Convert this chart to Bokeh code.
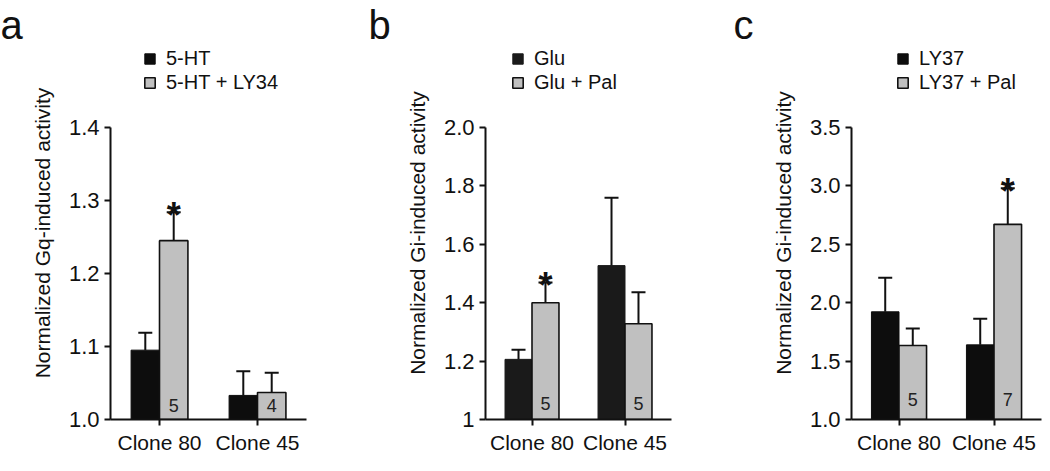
from bokeh.plotting import figure
from bokeh.models import (FactorRange, Range1d, FixedTicker, ColumnDataSource,
                          Legend, LegendItem, Whisker, TeeHead)
from bokeh.transform import dodge
from bokeh.layouts import row
from bokeh.embed import file_html
from bokeh.resources import INLINE
from bokeh.core.properties import value

FONT = "Liberation Sans"
TXT = "#111111"
GRAY = "#c0c0c0"

clones = ["Clone 80", "Clone 45"]
letters = ["a", "b", "c"]

# ---- panel a ----
a_series = ["5-HT", "5-HT + LY34"]
a_ctrl = [1.095, 1.033]
a_ctrl_err = [0.024, 0.033]
a_trt = [1.245, 1.037]
a_trt_err = [0.039, 0.027]
a_n = ["5", "4"]
a_star = ["*", ""]
a_ticks = [1.0, 1.1, 1.2, 1.3, 1.4]
a_tick_labels = ["1.0", "1.1", "1.2", "1.3", "1.4"]
a_ylabel = "Normalized Gq-induced activity"

# ---- panel b ----
b_series = ["Glu", "Glu + Pal"]
b_ctrl = [1.206, 1.527]
b_ctrl_err = [0.033, 0.232]
b_trt = [1.400, 1.328]
b_trt_err = [0.069, 0.108]
b_n = ["5", "5"]
b_star = ["*", ""]
b_ticks = [1.0, 1.2, 1.4, 1.6, 1.8, 2.0]
b_tick_labels = ["1", "1.2", "1.4", "1.6", "1.8", "2.0"]
b_ylabel = "Normalized Gi-induced activity"

# ---- panel c ----
c_series = ["LY37", "LY37 + Pal"]
c_ctrl = [1.922, 1.639]
c_ctrl_err = [0.292, 0.223]
c_trt = [1.633, 2.671]
c_trt_err = [0.147, 0.308]
c_n = ["5", "7"]
c_star = ["", "*"]
c_ticks = [1.0, 1.5, 2.0, 2.5, 3.0, 3.5]
c_tick_labels = ["1.0", "1.5", "2.0", "2.5", "3.0", "3.5"]
c_ylabel = "Normalized Gi-induced activity"

FH = 373             # frame height of each panel
AX = 292             # pixels spanned by the y axis (bottom tick to top tick)
BOT = 42
LEG_Y = 325
W = 0.29


def panel(letter, letter_x, series, ctrl, ctrl_err, trt, trt_err, n, star, ticks,
          tick_labels, ylabel, left, fw, right, legend_x, n_off, dark):
    t0, t1 = ticks[0], ticks[-1]
    y_end = t0 + (t1 - t0) * FH / AX
    p = figure(x_range=FactorRange(factors=clones, range_padding=0),
               y_range=Range1d(t0, y_end),
               frame_width=fw, frame_height=FH,
               min_border_left=left, min_border_right=right,
               min_border_top=0, min_border_bottom=BOT,
               output_backend="svg", toolbar_location=None)
    p.outline_line_color = None
    p.xgrid.visible = False
    p.ygrid.visible = False
    p.background_fill_color = None
    p.border_fill_color = None

    # panel letter as the plot title, shifted left over the axis area
    p.title.text = letter
    p.title.align = "left"
    p.title.offset = letter_x - left
    p.title.standoff = 0
    p.title.text_font = FONT
    p.title.text_font_size = "40px"
    p.title.text_font_style = "normal"
    p.title.text_color = TXT

    src = ColumnDataSource(dict(
        clone=clones,
        ctrl=ctrl, ctrl_top=[v + e for v, e in zip(ctrl, ctrl_err)],
        trt=trt, trt_top=[v + e for v, e in zip(trt, trt_err)],
        n=n, star=star))

    xl = dodge("clone", -W / 2, range=p.x_range)
    xr = dodge("clone", W / 2, range=p.x_range)

    for base, lo, hi in ((xl, "ctrl", "ctrl_top"), (xr, "trt", "trt_top")):
        p.add_layout(Whisker(source=src, base=base, lower=lo, upper=hi,
                             lower_head=None,
                             upper_head=TeeHead(size=14, line_width=2, line_color=TXT),
                             line_width=2, line_color=TXT, level="glyph"))

    r1 = p.vbar(x=xl, top="ctrl", bottom=t0, width=W, source=src,
                fill_color=dark, line_color=dark, line_width=1)
    r2 = p.vbar(x=xr, top="trt", bottom=t0, width=W, source=src,
                fill_color=GRAY, line_color=TXT, line_width=1.6)

    p.text(x=xr, y="trt_top", text="star", source=src, text_font=value(FONT),
           text_font_size="36px", text_font_style="bold", text_align="center",
           text_baseline="alphabetic", y_offset=3, text_color=TXT)
    p.text(x=xr, y=t0, text="n", source=src, text_font=value(FONT),
           text_font_size="18px", text_align="center", text_baseline="alphabetic",
           y_offset=-n_off, text_color="#222222")

    # axes
    p.yaxis.ticker = FixedTicker(ticks=ticks)
    p.yaxis.bounds = (t0, t1)
    p.yaxis.major_label_overrides = {t: l for t, l in zip(ticks, tick_labels)}
    p.yaxis.axis_label = ylabel
    for ax in (p.xaxis[0], p.yaxis[0]):
        ax.axis_line_width = 2
        ax.axis_line_color = TXT
        ax.major_tick_line_width = 2
        ax.major_tick_line_color = TXT
        ax.major_tick_in = 0
        ax.major_tick_out = 6
        ax.minor_tick_line_color = None
        ax.major_label_text_font = FONT
        ax.major_label_text_font_size = "21px"
        ax.major_label_text_color = TXT
        ax.axis_label_text_font = FONT
        ax.axis_label_text_font_size = "21px"
        ax.axis_label_text_font_style = "normal"
        ax.axis_label_text_color = TXT
    p.yaxis.major_label_text_font_size = "22px"
    p.yaxis.major_label_standoff = 5
    p.yaxis.axis_label_standoff = 12
    p.xaxis.major_label_standoff = 5

    legend = Legend(items=[LegendItem(label=series[0], renderers=[r1]),
                           LegendItem(label=series[1], renderers=[r2])],
                    location=(legend_x, LEG_Y), orientation="vertical",
                    glyph_width=13, glyph_height=13, label_height=13,
                    label_standoff=10, spacing=1, padding=0, margin=0,
                    border_line_color=None, background_fill_alpha=0,
                    label_text_font=FONT, label_text_font_size="20px",
                    label_text_color=TXT)
    p.add_layout(legend)
    return p


pa = panel(letters[0], 0, a_series, a_ctrl, a_ctrl_err, a_trt, a_trt_err, a_n, a_star,
           a_ticks, a_tick_labels, a_ylabel, 110, 196, 54, 33, 14, "#0d0d0d")
pb = panel(letters[1], 8, b_series, b_ctrl, b_ctrl_err, b_trt, b_trt_err, b_n, b_star,
           b_ticks, b_tick_labels, b_ylabel, 125, 186, 59, 26, 16, "#1a1a1a")
pc = panel(letters[2], 3, c_series, c_ctrl, c_ctrl_err, c_trt, c_trt_err, c_n, c_star,
           c_ticks, c_tick_labels, c_ylabel, 121, 190, 1, 45, 20, "#0d0d0d")

layout = row(pa, pb, pc, spacing=0)
open("out.html", "w").write(file_html(layout, INLINE))
